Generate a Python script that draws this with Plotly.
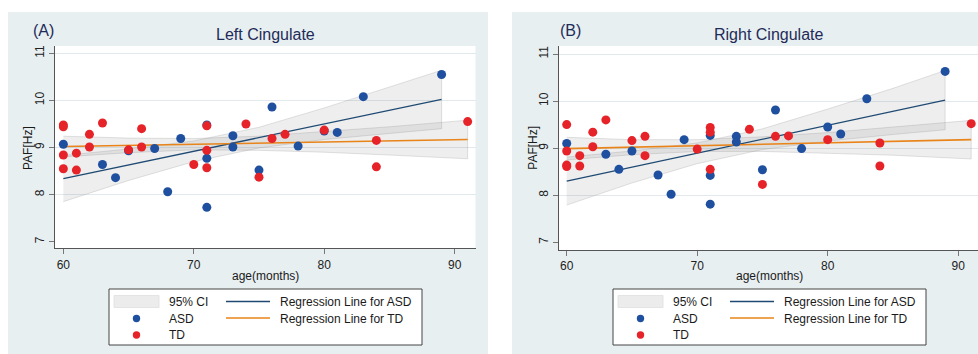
import plotly.graph_objects as go

# ---------------- data ----------------
asd_age = [60, 63, 64, 65, 67, 68, 69, 71, 71, 71, 73, 73, 75, 76, 78, 80, 81, 83, 89]
td_age = [60, 60, 60, 60, 61, 61, 62, 62, 63, 65, 66, 66, 70, 71, 71, 71, 74, 75, 76, 77, 80, 84, 84, 91]

left_asd_paf = [9.07, 8.64, 8.36, 8.93, 8.98, 8.06, 9.19, 9.48, 8.77, 7.73, 9.25, 9.01, 8.52, 9.86, 9.03, 9.35, 9.32, 10.08, 10.55]
left_td_paf = [9.48, 9.44, 8.84, 8.55, 8.88, 8.52, 9.28, 9.01, 9.52, 8.95, 9.40, 9.01, 8.64, 9.46, 8.94, 8.57, 9.50, 8.37, 9.19, 9.28, 9.37, 9.15, 8.59, 9.55]
right_asd_paf = [9.10, 8.87, 8.55, 8.94, 8.43, 8.02, 9.18, 9.27, 8.42, 7.81, 9.25, 9.13, 8.54, 9.81, 8.99, 9.45, 9.30, 10.05, 10.63]
right_td_paf = [9.50, 8.94, 8.64, 8.61, 8.84, 8.62, 9.34, 9.03, 9.60, 9.16, 9.25, 8.84, 8.98, 9.44, 9.34, 8.55, 9.40, 8.23, 9.25, 9.26, 9.18, 9.11, 8.62, 9.52]

fit_x_asd = [60, 89]
fit_x_td = [60, 91]
left_asd_fit = [8.34, 10.02]
left_td_fit = [9.02, 9.17]
right_asd_fit = [8.30, 10.02]
right_td_fit = [8.99, 9.18]

ci_x_asd = [60, 65, 70, 75, 80, 85, 89]
ci_x_td = [60, 65, 70, 75, 80, 85, 91]
left_asd_hi = [8.83, 8.97, 9.14, 9.43, 9.84, 10.28, 10.64]
left_asd_lo = [7.85, 8.30, 8.70, 8.99, 9.17, 9.30, 9.40]
left_td_hi = [9.24, 9.20, 9.19, 9.24, 9.34, 9.44, 9.58]
left_td_lo = [8.80, 8.89, 8.95, 8.94, 8.90, 8.84, 8.76]
right_asd_hi = [8.81, 8.94, 9.11, 9.41, 9.83, 10.27, 10.65]
right_asd_lo = [7.79, 8.26, 8.67, 8.97, 9.15, 9.29, 9.39]
right_td_hi = [9.23, 9.18, 9.18, 9.24, 9.33, 9.45, 9.59]
right_td_lo = [8.75, 8.86, 8.93, 8.93, 8.89, 8.85, 8.77]

x_ticks = [60, 70, 80, 90]
y_ticks = [7, 8, 9, 10, 11]
grid_vals = [8, 9, 10, 11]
panel_titles = ["Left Cingulate", "Right Cingulate"]
panel_tags = ["(A)", "(B)"]
x_title = "age(months)"
y_title = "PAF[Hz]"
legend_labels = ["95% CI", "ASD", "TD", "Regression Line for ASD", "Regression Line for TD"]

# ---------------- style ----------------
W, H = 978, 354
FONT = "Liberation Sans, Arial, sans-serif"
PANEL_BG = "#e7eff1"
BLUE = "#1f4f9f"
RED = "#e52329"
NAVY = "#1f4a73"
ORANGE = "#e8841a"
BAND_FILL = "rgba(120,120,120,0.13)"
BAND_LINE = "rgba(140,140,140,0.30)"
GRID = "#e1e9ec"


def px(x):
    return x / W


def py(y):
    return 1 - y / H


fig = go.Figure()

panels = [
    dict(xa="x", ya="y", asd=left_asd_paf, td=left_td_paf, asd_fit=left_asd_fit, td_fit=left_td_fit,
         ahi=left_asd_hi, alo=left_asd_lo, thi=left_td_hi, tlo=left_td_lo),
    dict(xa="x2", ya="y2", asd=right_asd_paf, td=right_td_paf, asd_fit=right_asd_fit, td_fit=right_td_fit,
         ahi=right_asd_hi, alo=right_asd_lo, thi=right_td_hi, tlo=right_td_lo),
]

for p in panels:
    for cx, hi, lo in [(ci_x_asd, p["ahi"], p["alo"]), (ci_x_td, p["thi"], p["tlo"])]:
        fig.add_trace(go.Scatter(
            x=cx + cx[::-1], y=hi + lo[::-1], fill="toself", fillcolor=BAND_FILL,
            line=dict(color=BAND_LINE, width=0.8), mode="lines", hoverinfo="skip",
            showlegend=False, xaxis=p["xa"], yaxis=p["ya"]))
    fig.add_trace(go.Scatter(x=fit_x_asd, y=p["asd_fit"], mode="lines", line=dict(color=NAVY, width=1.3),
                             showlegend=False, xaxis=p["xa"], yaxis=p["ya"]))
    fig.add_trace(go.Scatter(x=fit_x_td, y=p["td_fit"], mode="lines", line=dict(color=ORANGE, width=1.6),
                             showlegend=False, xaxis=p["xa"], yaxis=p["ya"]))
    fig.add_trace(go.Scatter(x=asd_age, y=p["asd"], mode="markers",
                             marker=dict(color=BLUE, size=9, line=dict(width=0)),
                             showlegend=False, xaxis=p["xa"], yaxis=p["ya"]))
    fig.add_trace(go.Scatter(x=td_age, y=p["td"], mode="markers",
                             marker=dict(color=RED, size=9, line=dict(width=0)),
                             showlegend=False, xaxis=p["xa"], yaxis=p["ya"]))

axis_common = dict(showline=True, linecolor="#555555", linewidth=1, ticks="outside", ticklen=5,
                   tickcolor="#777777", tickwidth=1, showgrid=False, zeroline=False,
                   tickfont=dict(family=FONT, size=12, color="#222222"), fixedrange=True)
y_minor = dict(tickmode="array", tickvals=grid_vals, showgrid=True, gridcolor=GRID, gridwidth=1, ticks="")

fig.update_layout(
    width=W, height=H, margin=dict(l=0, r=0, t=0, b=0),
    paper_bgcolor=PANEL_BG, plot_bgcolor="white", showlegend=False,
    font=dict(family=FONT),
    xaxis=dict(domain=[px(55), px(475.5)], range=[59.36, 91.6], anchor="y", tickvals=x_ticks, **axis_common),
    yaxis=dict(domain=[py(248.3), py(46)], range=[6.86, 11.155], anchor="x", tickvals=y_ticks,
               tickangle=-90, minor=y_minor, **axis_common),
    xaxis2=dict(domain=[px(559), 1.0], range=[59.41, 91.52], anchor="y2", tickvals=x_ticks, **axis_common),
    yaxis2=dict(domain=[py(250), py(46)], range=[6.836, 11.17], anchor="x2", tickvals=y_ticks,
                tickangle=-90, minor=y_minor, **axis_common),
)

shapes = []
# white surroundings of the two panels
shapes.append(dict(type="rect", xref="paper", yref="paper", x0=0, x1=1, y0=py(12), y1=1,
                   fillcolor="white", line=dict(width=0), layer="below"))
shapes.append(dict(type="rect", xref="paper", yref="paper", x0=0, x1=px(8), y0=0, y1=1,
                   fillcolor="white", line=dict(width=0), layer="below"))
shapes.append(dict(type="rect", xref="paper", yref="paper", x0=px(488), x1=px(512), y0=0, y1=1,
                   fillcolor="white", line=dict(width=0), layer="below"))

annotations = []
lab_font = dict(family=FONT, size=12, color="#1a1a1a")
ytitle_x = [28, 532.7]
tag_xs = [43.5, 570]
for i, off in enumerate([0, 504]):
    cx = 265 + off
    annotations.append(dict(text=panel_titles[i], x=px(cx), y=py(34), xref="paper", yref="paper",
                            showarrow=False, xanchor="center", yanchor="middle",
                            font=dict(family=FONT, size=16, color="#1f2b58")))
    annotations.append(dict(text=panel_tags[i], x=px(tag_xs[i]), y=py(30), xref="paper", yref="paper",
                            showarrow=False, xanchor="center", yanchor="middle",
                            font=dict(family=FONT, size=16, color="#1f2b58")))
    annotations.append(dict(text=x_title, x=px(cx), y=py(275.5), xref="paper", yref="paper",
                            showarrow=False, xanchor="center", yanchor="middle", font=lab_font))
    annotations.append(dict(text=y_title, x=px(ytitle_x[i]), y=py(148), xref="paper", yref="paper",
                            showarrow=False, xanchor="center", yanchor="middle", textangle=-90, font=lab_font))

    # legend box
    bx0, bx1 = 109 + off, 422 + off
    shapes.append(dict(type="rect", xref="paper", yref="paper", x0=px(bx0), x1=px(bx1), y0=py(345), y1=py(289),
                       fillcolor="white", line=dict(color="#444444", width=1)))
    rows = [302, 318.5, 335]
    shapes.append(dict(type="rect", xref="paper", yref="paper", x0=px(114 + off), x1=px(159 + off),
                       y0=py(307.5), y1=py(295.5), fillcolor="#ececec", line=dict(color="#e0e0e0", width=0.8)))
    for r, col in [(rows[1], BLUE), (rows[2], RED)]:
        shapes.append(dict(type="circle", xref="paper", yref="paper", x0=px(136.5 + off - 3.7),
                           x1=px(136.5 + off + 3.7), y0=py(r + 3.7), y1=py(r - 3.7),
                           fillcolor=col, line=dict(width=0)))
    for r, col in [(rows[0], NAVY), (rows[1], ORANGE)]:
        shapes.append(dict(type="line", xref="paper", yref="paper", x0=px(226 + off), x1=px(270 + off),
                           y0=py(r - 0.5), y1=py(r - 0.5), line=dict(color=col, width=1.3)))
    for lbl, (lx, ly) in zip(legend_labels, [(167, rows[0]), (167, rows[1]), (167, rows[2]),
                                             (278, rows[0]), (278, rows[1])]):
        annotations.append(dict(text=lbl, x=px(lx + off), y=py(ly), xref="paper", yref="paper",
                                showarrow=False, xanchor="left", yanchor="middle", font=lab_font))

fig.update_layout(shapes=shapes, annotations=annotations)
fig.write_html("out.html", config={"displayModeBar": False},
               post_script="document.body.style.margin='0px';document.body.style.overflow='hidden';")
